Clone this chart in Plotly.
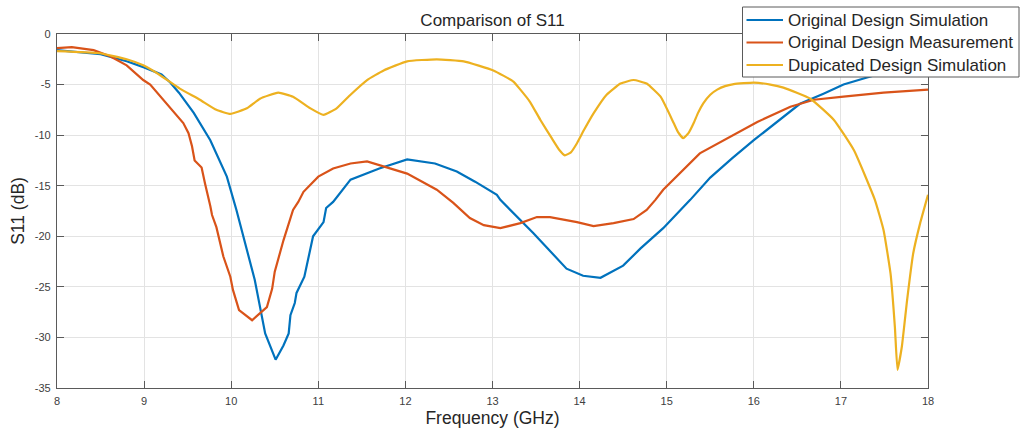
import plotly.graph_objects as go

# Original Design Simulation (blue)
sim_x = [8.0, 8.5, 8.8, 9.0, 9.2, 9.3, 9.4, 9.57, 9.76, 9.95, 10.06, 10.15, 10.27, 10.39,
         10.51, 10.6, 10.66, 10.68, 10.73, 10.75, 10.84, 10.94, 11.06, 11.09, 11.17, 11.37,
         11.7, 12.02, 12.34, 12.59, 12.8, 13.05, 13.09, 13.47, 13.7, 13.85, 14.04, 14.24,
         14.5, 14.7, 14.96, 15.27, 15.5, 15.75, 16.0, 16.25, 16.53, 16.8, 17.03, 17.3, 17.6, 18.0]
sim_y = [-1.6, -2.0, -2.7, -3.3, -4.0, -4.8, -5.8, -7.8, -10.5, -14.1, -17.4, -20.3, -24.3, -29.6,
         -32.2, -30.8, -29.6, -27.8, -26.6, -25.6, -24.0, -20.0, -18.6, -17.2, -16.6, -14.4,
         -13.3, -12.4, -12.8, -13.6, -14.6, -15.9, -16.4, -19.7, -21.8, -23.2, -23.9, -24.1,
         -22.9, -21.2, -19.2, -16.4, -14.2, -12.3, -10.5, -8.8, -6.9, -5.9, -5.0, -4.3, -3.6, -2.6]

# Original Design Measurement (orange)
meas_x = [8.0, 8.17, 8.42, 8.61, 8.80, 8.99, 9.07, 9.14, 9.30, 9.45, 9.51, 9.55, 9.58, 9.66,
          9.70, 9.74, 9.76, 9.78, 9.83, 9.91, 9.99, 10.02, 10.09, 10.24, 10.41, 10.47, 10.50,
          10.60, 10.71, 10.77, 10.83, 11.0, 11.17, 11.37, 11.56, 12.02, 12.36, 12.55, 12.74,
          12.90, 13.09, 13.32, 13.51, 13.66, 13.97, 14.16, 14.39, 14.62, 14.77, 14.87, 14.96,
          15.38, 15.77, 16.04, 16.42, 16.69, 17.03, 17.49, 18.0]
meas_y = [-1.4, -1.3, -1.6, -2.2, -3.1, -4.55, -5.0, -5.7, -7.2, -8.8, -9.8, -11.1, -12.5, -13.2,
          -14.8, -16.1, -17.0, -17.9, -19.1, -22.0, -24.0, -25.3, -27.3, -28.3, -27.0, -25.2, -23.5,
          -20.4, -17.4, -16.6, -15.6, -14.1, -13.3, -12.8, -12.6, -13.8, -15.4, -16.7, -18.2,
          -18.9, -19.2, -18.7, -18.1, -18.1, -18.6, -19.0, -18.7, -18.3, -17.4, -16.4, -15.4,
          -11.8, -10.0, -8.7, -7.2, -6.5, -6.2, -5.8, -5.5]

# Dupicated Design Simulation (yellow)
dup_x = [8.0, 8.49, 8.80, 8.99, 9.18, 9.41, 9.64, 9.83, 9.99, 10.18, 10.33, 10.54, 10.71, 10.91,
         11.06, 11.21, 11.37, 11.56, 11.75, 12.02, 12.36, 12.67, 13.01, 13.24, 13.32, 13.43, 13.55,
         13.68, 13.77, 13.83, 13.90, 13.97, 14.05, 14.16, 14.31, 14.47, 14.62, 14.77, 14.93,
         15.08, 15.13, 15.19, 15.25, 15.31, 15.36, 15.42, 15.50, 15.58, 15.67, 15.77, 16.0, 16.19,
         16.34, 16.65, 16.92, 17.15, 17.39, 17.49, 17.57, 17.62, 17.65, 17.70, 17.76, 17.83,
         17.91, 18.0]
dup_y = [-1.7, -1.9, -2.5, -3.1, -4.05, -5.4, -6.5, -7.5, -7.9, -7.35, -6.4, -5.8, -6.2, -7.35,
         -8.0, -7.35, -6.0, -4.55, -3.6, -2.7, -2.5, -2.7, -3.6, -4.7, -5.5, -6.7, -8.5,
         -10.3, -11.5, -12.0, -11.7, -10.8, -9.5, -7.85, -6.0, -4.9, -4.55, -4.9, -6.2,
         -8.8, -9.7, -10.3, -9.8, -8.8, -7.8, -6.85, -6.0, -5.5, -5.15, -4.95, -4.8, -5.0,
         -5.3, -6.4, -8.5, -11.5, -16.4, -19.4, -23.7, -29.0, -33.2, -30.9, -26.3, -21.7,
         -18.7, -15.9]

x_ticks = [8, 9, 10, 11, 12, 13, 14, 15, 16, 17, 18]
y_ticks = [0, -5, -10, -15, -20, -25, -30, -35]

series_names = ["Original Design Simulation", "Original Design Measurement",
                "Dupicated Design Simulation"]
series_colors = ["#0072BD", "#D95319", "#EDB120"]

FONT = "Liberation Sans, Arial, sans-serif"
TXT = "#262626"

fig = go.Figure()
fig.add_trace(go.Scatter(x=sim_x, y=sim_y, mode="lines", name=series_names[0],
                         line=dict(color=series_colors[0], width=2.2), showlegend=False))
fig.add_trace(go.Scatter(x=meas_x, y=meas_y, mode="lines", name=series_names[1],
                         line=dict(color=series_colors[1], width=2.2), showlegend=False))
fig.add_trace(go.Scatter(x=dup_x, y=dup_y, mode="lines", name=series_names[2],
                         line=dict(color=series_colors[2], width=2.2, shape="spline", smoothing=0.4),
                         showlegend=False))

axis_common = dict(
    showgrid=True, gridcolor="#e3e3e3", gridwidth=1,
    showline=True, linecolor="#5a5a5a", linewidth=1.3, mirror="ticks",
    ticks="inside", ticklen=7, tickcolor="#5a5a5a", tickwidth=1,
    zeroline=False,
    tickfont=dict(family=FONT, size=11, color="#404040"),
)

# Legend box (MATLAB-style, overlapping the top-right corner of the axes)
L, R, T, B = 57, 928, 34, 388
W, H = R - L, B - T
def px_x(p):
    return (p - L) / W
def px_y(p):
    return (B - p) / H

shapes = [dict(type="rect", xref="paper", yref="paper",
               x0=px_x(742.5), x1=px_x(1019), y0=px_y(77), y1=px_y(7),
               fillcolor="white", line=dict(color="#5a5a5a", width=1), layer="above")]
annotations = []
row_y = [20, 42.5, 65]
for name, color, ry in zip(series_names, series_colors, row_y):
    shapes.append(dict(type="line", xref="paper", yref="paper",
                       x0=px_x(746.5), x1=px_x(783), y0=px_y(ry), y1=px_y(ry),
                       line=dict(color=color, width=2.2), layer="above"))
    annotations.append(dict(text=name, xref="paper", yref="paper", x=px_x(786), y=px_y(ry),
                            xanchor="left", yanchor="middle", showarrow=False,
                            font=dict(family=FONT, size=17, color=TXT)))

fig.update_layout(
    width=1023, height=436,
    margin=dict(l=L, r=1023 - R, t=T, b=436 - B),
    paper_bgcolor="white", plot_bgcolor="white",
    font=dict(family=FONT, color=TXT),
    title=dict(text="Comparison of S11", x=(L + R) / 2 / 1023, xanchor="center",
               y=1 - 20 / 436, yanchor="middle", yref="container",
               font=dict(family=FONT, size=17, color=TXT)),
    xaxis=dict(range=[8, 18], tickvals=x_ticks, ticktext=[str(v) for v in x_ticks],
               title=dict(text="Frequency (GHz)", standoff=5,
                          font=dict(family=FONT, size=17.5, color=TXT)),
               ticklabelstandoff=3, automargin=False, **axis_common),
    yaxis=dict(range=[-35, 0], tickvals=y_ticks, ticktext=[str(v) for v in y_ticks],
               title=dict(text="S11 (dB)", standoff=5,
                          font=dict(family=FONT, size=17.5, color=TXT)),
               ticklabelstandoff=3, automargin=False, **axis_common),
    shapes=shapes,
    annotations=annotations,
    showlegend=False,
)

fig.write_html("out.html")
